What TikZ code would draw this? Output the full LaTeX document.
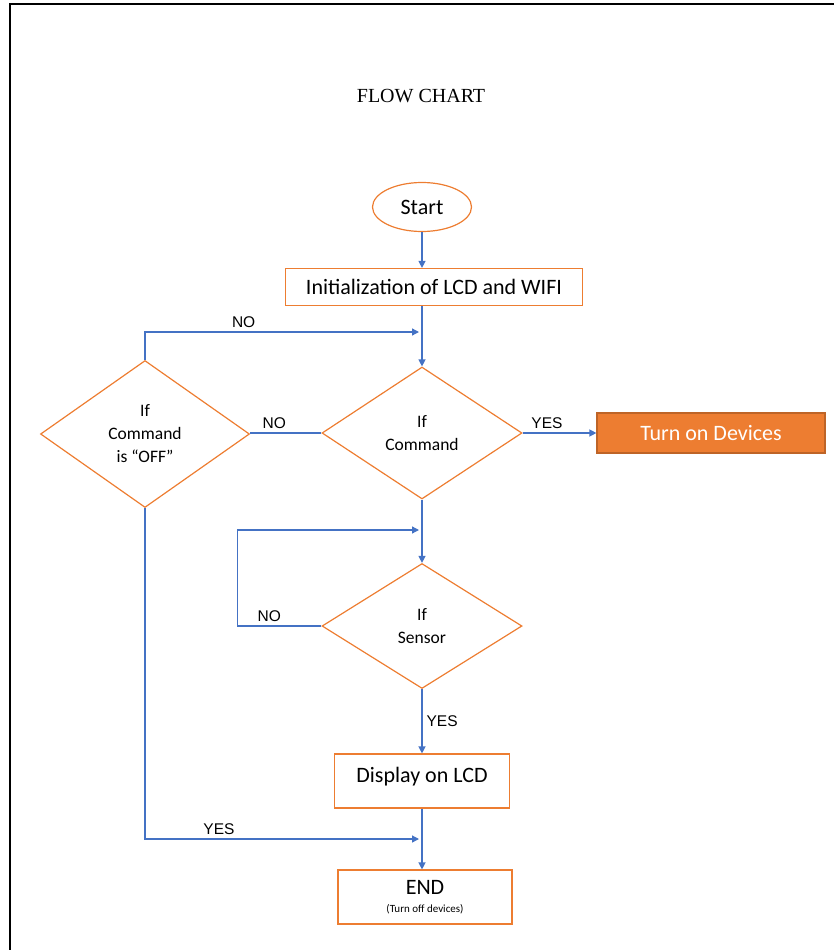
\documentclass[tikz,border=0pt]{standalone}
\usepackage{fontspec}
\setmainfont{Carlito}
\newfontfamily\arialfont{Liberation Sans}
\newfontfamily\titlefont{Liberation Serif}
\usetikzlibrary{shapes.geometric,arrows.meta}
\definecolor{flowblue}{HTML}{4472C4}
\definecolor{floworange}{HTML}{ED7D31}
\tikzset{>={Triangle[length=7pt,width=7pt]},
  flowbox/.style={draw=floworange,line width=1.2pt,inner sep=0pt,font=\fontsize{22}{26}\selectfont},
  decision/.style={diamond,draw=floworange,line width=1.2pt,inner sep=0pt,align=center,font=\fontsize{17.5}{23}\selectfont},
  flowline/.style={draw=flowblue,line width=1.3pt},
  answer/.style={font=\arialfont\fontsize{15.5}{18}\selectfont,inner sep=2pt}}

\begin{document}
\begin{tikzpicture}[x=1pt,y=-1pt]
\useasboundingbox (0,0) rectangle (834,950);
\draw[line width=2pt] (10,950) -- (10,4) -- (834,4);
\node[font=\titlefont\fontsize{20}{24}\selectfont] (title) at (421,96) {FLOW CHART};
\node[flowbox,ellipse,minimum width=99pt,minimum height=49pt] (start) at (422,207) {Start};
\node[flowbox,minimum width=297pt,minimum height=37pt] (init) at (434,287) {Initialization of LCD and WIFI};
\node[decision,minimum width=200pt,minimum height=132pt] (cmd) at (422,433) {If\\Command};
\node[decision,minimum width=209pt,minimum height=147pt] (off) at (145,434) {If\\Command\\is “OFF”};
\node[flowbox,draw=floworange!80!black,fill=floworange,text=white,minimum width=228pt,minimum height=40pt] (dev) at (711,433) {Turn on Devices};
\node[decision,minimum width=200pt,minimum height=125pt] (sensor) at (422,626) {If\\Sensor};
\node[flowbox,minimum width=175pt,minimum height=54pt,text height=16pt,text depth=14pt] (disp) at (422,781) {Display on LCD};
\node[flowbox,minimum width=174pt,minimum height=54pt,align=center] (end) at (425,897) {END\\[-8pt]{\fontsize{11}{12}\selectfont(Turn off devices)}};
\coordinate (m1) at (422,332);
\coordinate (m2) at (422,530);
\coordinate (m3) at (422,839);
\draw[flowline,->] (start) -- (start |- init.north);
\draw[flowline,->] (init.south -| cmd) -- (cmd.north);
\draw[flowline,->] (off.north) -- (off.north |- m1) -- node[answer,above=2pt,pos=0.36]{NO} ([xshift=-3pt]m1);
\draw[flowline,->] (cmd.east) -- node[answer,above=2pt,pos=0.33]{YES} (dev.west);
\draw[flowline] (cmd.west) -- node[answer,above=2pt,pos=0.66]{NO} (cmd.west -| off.east);
\draw[flowline,->] (cmd.south) -- (sensor.north);
\draw[flowline,->] (sensor.west) -- node[answer,above=2pt,pos=0.62]{NO} ++(-84,0) |- ([xshift=-3pt]m2);
\draw[flowline,->] (sensor.south) -- node[answer,right=2pt]{YES} (disp.north);
\draw[flowline,->] (disp.south) -- (disp.south |- end.north);
\draw[flowline,->] (off.south) -- (off.south |- m3) -- node[answer,above=2pt,pos=0.27]{YES} ([xshift=-3pt]m3);
\end{tikzpicture}
\end{document}
